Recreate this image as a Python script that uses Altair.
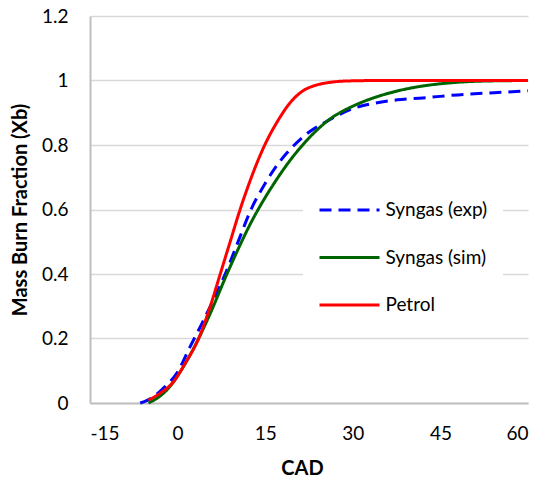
import altair as alt
import pandas as pd

# Mass burn fraction curves against crank angle
exp_cad = [-6.4, -4.5, -2.5, -0.15, 2.15, 3.9, 6.4, 8.15, 10.7, 12.4, 15.0, 16.7, 18.7, 21.6, 25.9, 30.2, 33.0, 37.6, 42, 49, 54.2, 60]
exp_xb = [0, 0.015, 0.045, 0.092, 0.175, 0.237, 0.33, 0.40, 0.516, 0.593, 0.681, 0.729, 0.775, 0.827, 0.877, 0.914, 0.927, 0.94, 0.946, 0.957, 0.962, 0.968]

sim_cad = [-5, -3.5, -1.85, 1.0, 3.6, 5.6, 8.45, 10.7, 12.5, 14.3, 16.7, 19.0, 21.9, 25.9, 30.2, 34.2, 38.2, 42, 46.2, 52, 60]
sim_xb = [0, 0.015, 0.04, 0.113, 0.2, 0.278, 0.40, 0.49, 0.557, 0.616, 0.686, 0.746, 0.81, 0.878, 0.922, 0.95, 0.97, 0.983, 0.992, 0.998, 1.0]

petrol_cad = [-5, -3, -0.7, 1.3, 3.6, 5.6, 7.3, 9.0, 10.7, 12.15, 13.9, 15.0, 16.7, 17.6, 19.0, 21.3, 23.6, 25.3, 27.5, 30, 35, 45, 60]
petrol_xb = [0.009, 0.03, 0.066, 0.123, 0.2, 0.3, 0.4, 0.5, 0.6, 0.676, 0.758, 0.803, 0.861, 0.888, 0.925, 0.966, 0.985, 0.992, 0.997, 0.999, 1.0, 1.0, 1.0]

series_names = ["Syngas (exp)", "Syngas (sim)", "Petrol"]
series_colors = ["#0000FF", "#006400", "#FF0000"]
series_dashes = [[12, 7], [1, 0], [1, 0]]

x_ticks = [-15, 0, 15, 30, 45, 60]
y_ticks = [0, 0.2, 0.4, 0.6, 0.8, 1.0, 1.2]

rows = []
for name, xs, ys in zip(series_names, [exp_cad, sim_cad, petrol_cad], [exp_xb, sim_xb, petrol_xb]):
    for cx, cy in zip(xs, ys):
        rows.append({"Series": name, "CAD": cx, "Xb": cy})
df = pd.DataFrame(rows)

FONT = "Lato"

legend = alt.Legend(
    title=None,
    orient="none",
    legendX=213,
    legendY=169,
    fillColor="white",
    padding=15,
    symbolType="stroke",
    symbolSize=3600,
    symbolStrokeWidth=3,
    clipHeight=20,
    rowPadding=27.5,
    labelFont=FONT,
    labelFontSize=19,
    labelColor="black",
    labelOffset=4.5,
    labelLimit=300,
)

x_enc = alt.X(
    "CAD:Q",
    scale=alt.Scale(domain=[-15, 60], nice=False, zero=False),
    axis=alt.Axis(
        values=x_ticks, title="CAD", grid=False, ticks=False, tickSize=0,
        labelExpr="toString(datum.value)",
        domainColor="#BFBFBF", domainWidth=2,
        labelFont=FONT, labelFontSize=19, labelColor="black",
        labelPadding=36, labelBaseline="alphabetic",
        titleFont=FONT, titleFontSize=20, titleFontWeight="bold", titleColor="black",
        titleX=212, titleY=71, titleBaseline="alphabetic",
    ),
)
y_enc = alt.Y(
    "Xb:Q",
    scale=alt.Scale(domain=[0, 1.2], nice=False),
    axis=alt.Axis(
        values=y_ticks, format="~g", title="Mass Burn Fraction (Xb)",
        grid=True, gridColor="#D9D9D9", gridWidth=1.5,
        ticks=False, tickSize=0,
        domainColor="#BFBFBF", domainWidth=2,
        labelFont=FONT, labelFontSize=19, labelColor="black", labelPadding=22,
        titleFont=FONT, titleFontSize=20, titleFontWeight="bold", titleColor="black",
        titleX=-70, titleBaseline="middle",
    ),
)
color_enc = alt.Color("Series:N", scale=alt.Scale(domain=series_names, range=series_colors), legend=legend)
dash_enc = alt.StrokeDash("Series:N", scale=alt.Scale(domain=series_names, range=series_dashes), legend=legend)

base = alt.Chart(df)
layers = [
    base.transform_filter(alt.datum.Series == name)
    .mark_line(strokeWidth=3, interpolate="monotone")
    .encode(x=x_enc, y=y_enc, color=color_enc, strokeDash=dash_enc)
    for name in series_names
]

chart = (
    alt.layer(*layers)
    .properties(
        width=438,
        height=387,
        autosize=alt.AutoSizeParams(type="none"),
        padding={"left": 90, "top": 16, "right": 11, "bottom": 76},
        background="white",
    )
    .configure_view(stroke="transparent")
)

chart.save("out.html", embed_options={"renderer": "svg", "actions": False})
